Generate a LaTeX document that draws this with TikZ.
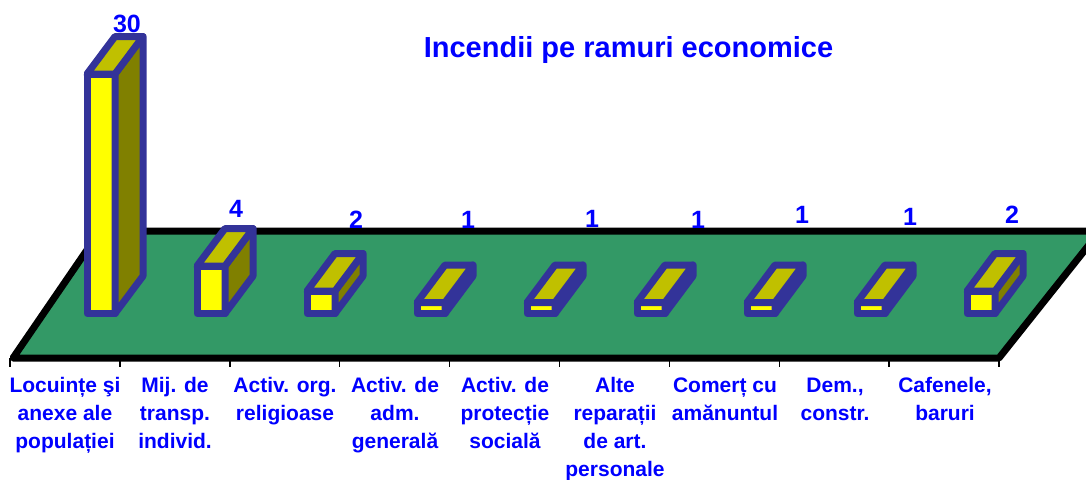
\documentclass[tikz,border=0pt]{standalone}
\usepackage{fontspec}
\setmainfont{Liberation Sans}
\definecolor{floorgreen}{HTML}{339966}
\definecolor{barblue}{HTML}{333399}
\definecolor{frontc}{HTML}{FFFF00}
\definecolor{topc}{HTML}{C0C000}
\definecolor{sidec}{HTML}{808000}
\definecolor{txtblue}{HTML}{0000FF}
\tikzset{
  barline/.style={draw=barblue, line width=7pt, line join=round},
  vallabel/.style={anchor=base, inner sep=0pt, text=txtblue, font=\fontsize{25}{30}\selectfont\bfseries},
  catlabel/.style={anchor=north, align=center, inner sep=0pt, text=txtblue, font=\fontsize{21}{27.7}\selectfont\bfseries},
  ticks/.style={line width=1.5pt, draw=black}
}
\begin{document}
\begin{tikzpicture}[x=1pt,y=-1pt]
\useasboundingbox (0,0) rectangle (1086,479);
% floor
\path[fill=floorgreen, draw=black, line width=7pt, line join=round]
  (13,358) coordinate (fl) -- (999,358) coordinate (fr) -- (1100,231) coordinate (br) -- (100,231) coordinate (bl) -- cycle;
% ticks
\foreach \i in {0,...,9}{
  \coordinate (t\i) at ({10+109.9*\i},358);
  \draw[ticks] (t\i) -- ++(0,9);
}
% bars
\foreach \i/\h in {0/239.5,1/47.5,2/22.5,3/11,4/11,5/11,6/11,7/11,8/22.5}{
  \pgfmathsetmacro\xl{87+110*\i}
  \pgfmathsetmacro\xr{115+110*\i}
  \pgfmathsetmacro\yt{313.5-\h}
  \draw[barline, fill=frontc] (\xl,313.5) rectangle (\xr,\yt);
  \draw[barline, fill=sidec] (\xr,313.5) -- (\xr,\yt) -- ++(28,-37.5) -- ({\xr+28},{313.5-37.5}) -- cycle;
  \draw[barline, fill=topc] (\xl,\yt) -- (\xr,\yt) -- ++(28,-37.5) -- ({\xl+28},{\yt-37.5}) -- cycle;
}
% value labels
\node[vallabel] (v1) at (127,32) {30};
\node[vallabel] (v2) at (236,217) {4};
\node[vallabel] (v3) at (356,228) {2};
\node[vallabel] (v4) at (468,228) {1};
\node[vallabel] (v5) at (592,227) {1};
\node[vallabel] (v6) at (698,228) {1};
\node[vallabel] (v7) at (802,223) {1};
\node[vallabel] (v8) at (910,225) {1};
\node[vallabel] (v9) at (1012,223) {2};
% title
\node[anchor=base, inner sep=0pt, text=txtblue, font=\fontsize{29}{34}\selectfont\bfseries] (title) at (628.5,57) {Incendii pe ramuri economice};
% category labels
\node[catlabel] (c1) at (65,376.7) {\rule{0pt}{16pt}Locuințe şi\\anexe ale\\populației};
\node[catlabel] (c2) at (175,376.7) {\rule{0pt}{16pt}Mij. de\\transp.\\individ.};
\node[catlabel] (c3) at (285,376.7) {\rule{0pt}{16pt}Activ. org.\\religioase};
\node[catlabel] (c4) at (395,376.7) {\rule{0pt}{16pt}Activ. de\\adm.\\generală};
\node[catlabel] (c5) at (505,376.7) {\rule{0pt}{16pt}Activ. de\\protecție\\socială};
\node[catlabel] (c6) at (615,376.7) {\rule{0pt}{16pt}Alte\\reparații\\de art.\\personale};
\node[catlabel] (c7) at (725,376.7) {\rule{0pt}{16pt}Comerț cu\\amănuntul};
\node[catlabel] (c8) at (835,376.7) {\rule{0pt}{16pt}Dem.,\\constr.};
\node[catlabel] (c9) at (945,376.7) {\rule{0pt}{16pt}Cafenele,\\baruri};
\end{tikzpicture}
\end{document}
